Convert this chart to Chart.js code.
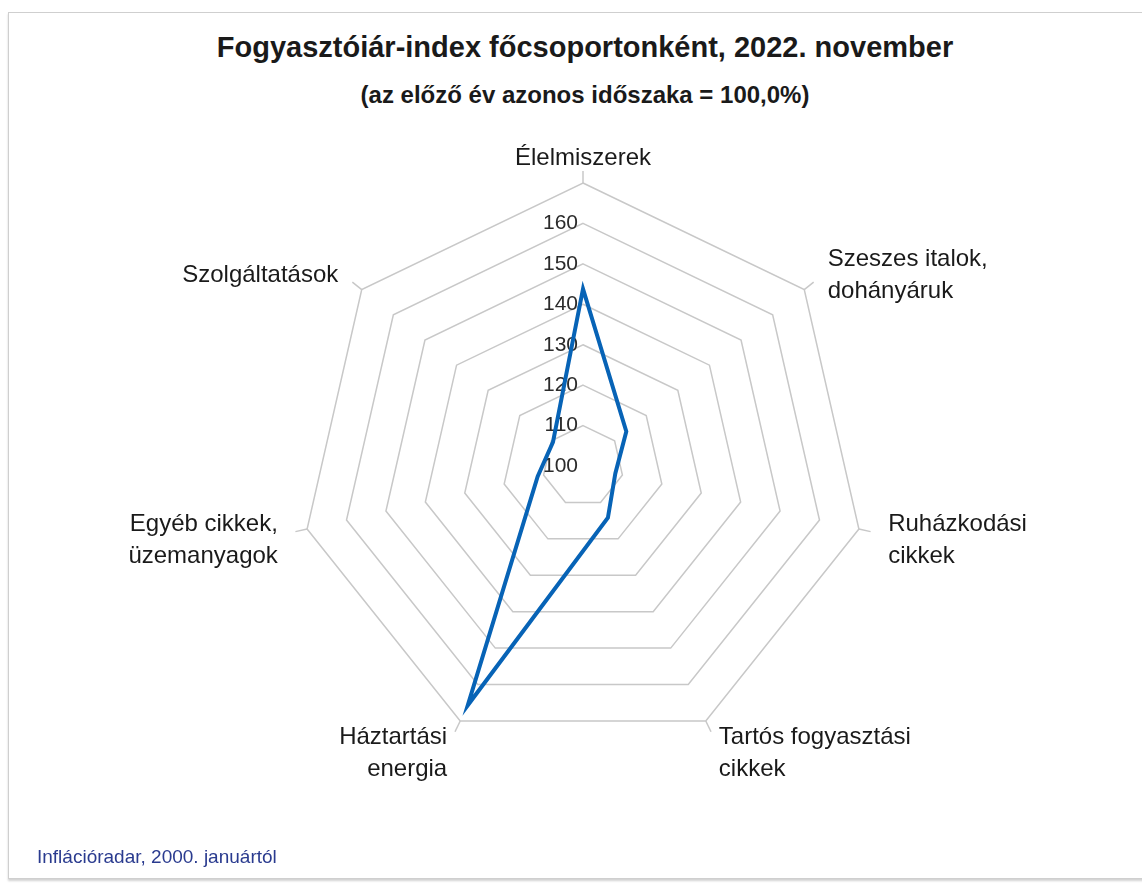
<!DOCTYPE html>
<html lang="hu">
<head>
<meta charset="utf-8">
<title>Fogyasztóiár-index főcsoportonként, 2022. november</title>
<script src="https://cdn.jsdelivr.net/npm/chart.js@4.4.1/dist/chart.umd.min.js"></script>
<style>
  html, body { margin:0; padding:0; background:#fff; }
  body { width:1142px; height:883px; overflow:hidden; position:relative; font-family:"Liberation Sans", Arial, sans-serif; color:#1a1a1a; }
  .card { position:absolute; left:8px; top:12px; width:1140px; height:867px; box-sizing:border-box;
          border:1px solid #cfcfcf; box-shadow:0 2px 2px rgba(0,0,0,.18); }
  .chart-box { position:absolute; left:0; top:0; width:1142px; height:883px; }
  h1 { position:absolute; left:0; width:1170px; top:30px; margin:0; text-align:center;
       font-size:29px; line-height:34px; font-weight:bold; }
  .sub { position:absolute; left:0; width:1170px; top:81px; text-align:center;
         font-size:24px; line-height:28px; font-weight:bold; }
  .source { position:absolute; left:37px; top:846px; font-size:19px; line-height:21px; color:#2a3b8f; }
</style>
</head>
<body>
<div class="card"></div>
<h1>Fogyasztóiár-index főcsoportonként, 2022. november</h1>
<div class="sub">(az előző év azonos időszaka = 100,0%)</div>
<div class="chart-box"><canvas id="cpiRadar"></canvas></div>
<div class="source">Inflációradar, 2000. januártól</div>

<script>
// categories (főcsoportok) and the Nov 2022 year-on-year index
const categories = [
  'Élelmiszerek',
  ['Szeszes italok,', 'dohányáruk'],
  ['Ruházkodási', 'cikkek'],
  ['Tartós fogyasztási', 'cikkek'],
  ['Háztartási', 'energia'],
  ['Egyéb cikkek,', 'üzemanyagok'],
  'Szolgáltatások'
];
const indexValues = [143.8, 113.7, 108.2, 114.2, 165.7, 111.5, 109.5];
const tickLabels = [100, 110, 120, 130, 140, 150, 160];
const scaleMin = 100, scaleMax = 170, scaleStep = 10;

const FONT = '"Liberation Sans", Arial, sans-serif';
const GRID = '#c8c8c8';

// stubs outside the outer ring, tick labels left of the top axis, category labels
const radarExtras = {
  id: 'radarExtras',
  beforeDatasetsDraw(chart){
    const r = chart.scales.r, ctx = chart.ctx;
    ctx.save();
    ctx.strokeStyle = GRID; ctx.lineWidth = 1.5;
    categories.forEach((c, i)=>{
      const a = r.getPointPosition(i, r.drawingArea);
      const b = r.getPointPosition(i, r.drawingArea + 12);
      ctx.beginPath(); ctx.moveTo(a.x, a.y); ctx.lineTo(b.x, b.y); ctx.stroke();
    });

    ctx.font = '21px ' + FONT;
    ctx.fillStyle = '#2b2b2b';
    ctx.textAlign = 'right'; ctx.textBaseline = 'middle';
    tickLabels.forEach(v=>{
      const p = r.getPointPositionForValue(0, v);
      ctx.fillText(String(v), p.x - 5, p.y);
    });

    // category labels, block centred on a point a bit beyond each vertex
    ctx.font = '24px ' + FONT;
    ctx.fillStyle = '#1a1a1a';
    const lh = 32;
    categories.forEach((c, i)=>{
      const lines = Array.isArray(c) ? c : [c];
      const p = r.getPointPosition(i, r.drawingArea + 30);
      const dx = p.x - r.xCenter;
      ctx.textAlign = dx > 2 ? 'left' : dx < -2 ? 'right' : 'center';
      const y0 = p.y + 5 - (lines.length - 1) * lh / 2;
      lines.forEach((t, k)=> ctx.fillText(t, p.x, y0 + k * lh));
    });
    ctx.restore();
  }
};

new Chart(document.getElementById('cpiRadar'), {
  type: 'radar',
  data: {
    labels: categories,
    datasets: [{
      data: indexValues,
      borderColor: '#0763b6',
      borderWidth: 4,
      fill: false,
      pointRadius: 0,
      tension: 0
    }]
  },
  options: {
    responsive: true,
    maintainAspectRatio: false,
    animation: false,
    layout: { padding: { left: 300, right: 276, top: 183, bottom: 134 } },
    plugins: {
      legend: { display: false },
      tooltip: { enabled: false }
    },
    scales: {
      r: {
        min: scaleMin,
        max: scaleMax,
        ticks: { display: false, stepSize: scaleStep },
        grid: { color: GRID, lineWidth: 1.5 },
        angleLines: { display: false },
        pointLabels: { display: false }
      }
    }
  },
  plugins: [radarExtras]
});
</script>
</body>
</html>
